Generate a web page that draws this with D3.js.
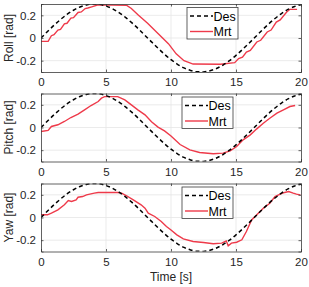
<!DOCTYPE html>
<html>
<head>
<meta charset="utf-8">
<script src="https://cdn.jsdelivr.net/npm/d3@7"></script>
<style>
  body { margin: 0; background: #fff; }
  svg { display: block; font-family: "Liberation Sans", Arial, sans-serif; }
</style>
</head>
<body>
<svg></svg>
<script>
//Data
const desT = [0,0.5,1,1.5,2,2.5,3,3.5,4,4.5,5,5.5,6,6.5,7,7.5,8,8.5,9,9.5,10,10.5,11,11.5,12,12.5,13,13.5,14,14.5,15,15.5,16,16.5,17,17.5,18,18.5,19,19.5,20];
const desV = [0,0.057,0.112,0.163,0.208,0.245,0.274,0.292,0.300,0.297,0.282,0.258,0.224,0.182,0.133,0.080,0.023,-0.034,-0.090,-0.143,-0.191,-0.232,-0.264,-0.286,-0.298,-0.299,-0.289,-0.269,-0.239,-0.200,-0.153,-0.101,-0.046,0.011,0.068,0.123,0.172,0.216,0.252,0.278,0.294];

const rollT = [0,0.55,0.8,1.0,1.3,1.5,1.8,2.0,2.3,2.5,2.85,3.1,3.4,3.6,3.9,4.4,6.6,6.95,7.5,8.2,9.0,9.8,10.4,11.0,11.7,13.8,14.9,15.2,15.5,15.8,16.1,16.6,16.9,17.4,17.7,18.1,18.4,18.9,19.15,19.7];
const rollV = [-0.03,-0.03,0.02,0.03,0.07,0.075,0.125,0.13,0.175,0.18,0.225,0.23,0.26,0.265,0.275,0.293,0.288,0.26,0.2,0.13,0.04,-0.05,-0.14,-0.2,-0.23,-0.232,-0.218,-0.182,-0.17,-0.124,-0.11,-0.035,-0.02,0.053,0.07,0.14,0.16,0.229,0.253,0.253];

const pitchT = [0,0.55,0.8,1.3,1.8,2.3,2.85,3.35,3.85,4.4,4.65,4.9,5.9,6.45,6.95,7.45,8.0,8.5,9.0,9.5,10.0,10.7,11.45,12.2,13.25,14.0,14.55,15.05,15.55,16.1,16.6,17.1,17.6,18.15,18.65,19.15,19.55];
const pitchV = [-0.035,-0.026,0.009,0.024,0.053,0.088,0.118,0.156,0.194,0.229,0.259,0.272,0.272,0.244,0.2,0.156,0.112,0.05,0.003,-0.03,-0.075,-0.15,-0.197,-0.221,-0.232,-0.226,-0.206,-0.168,-0.109,-0.065,-0.012,0.038,0.082,0.126,0.156,0.185,0.194];

const yawT = [0,0.5,0.8,1.3,1.8,2.1,2.35,2.7,2.85,3.2,3.5,4.1,4.4,5.9,6.2,6.55,7.1,7.7,8.0,8.25,8.75,9.25,9.65,10.0,10.45,10.95,11.7,12.5,13.25,13.9,14.25,14.4,14.65,15.05,15.45,15.8,16.2,16.6,17.1,17.6,18.0,18.4,18.75,19.05,19.4,19.65,19.95];
const yawV = [0.024,0.024,0.038,0.068,0.112,0.15,0.141,0.156,0.179,0.185,0.2,0.215,0.221,0.221,0.215,0.194,0.156,0.112,0.082,0.038,0.009,-0.035,-0.079,-0.11,-0.153,-0.188,-0.212,-0.221,-0.232,-0.226,-0.206,-0.25,-0.226,-0.218,-0.197,-0.124,-0.021,0.024,0.082,0.126,0.185,0.206,0.221,0.229,0.215,0.206,0.2];

const xTicks = [0,5,10,15,20];
const yTicks = [-0.2,0,0.2];
const panels = [
  {label: "Roll [rad]", t: rollT, v: rollV, top: 4, legX: 187},
  {label: "Pitch [rad]", t: pitchT, v: pitchV, top: 93.5, legX: 182},
  {label: "Yaw [rad]", t: yawT, v: yawV, top: 183.5, legX: 182}
];

const w = 309, h = 287;
const left = 41, right = 301, ph = 68;
const red = "#ee3a4a";

const svg = d3.select("svg").attr("width", w).attr("height", h);

const x = d3.scaleLinear().domain([0, 20]).range([left, right]);

panels.forEach((p, i) => {
  const y = d3.scaleLinear().domain([-0.3, 0.3]).range([p.top + ph, p.top]);
  const g = svg.append("g");

  //grid
  g.selectAll(".gx").data([5,10,15]).enter().append("line")
    .attr("x1", d => x(d)).attr("x2", d => x(d))
    .attr("y1", p.top).attr("y2", p.top + ph)
    .attr("stroke", "#e6e6e6").attr("stroke-width", 0.8);
  g.selectAll(".gy").data(yTicks).enter().append("line")
    .attr("x1", left).attr("x2", right)
    .attr("y1", d => y(d)).attr("y2", d => y(d))
    .attr("stroke", "#e6e6e6").attr("stroke-width", 0.8);

  //clip
  svg.append("clipPath").attr("id", "clip" + i).append("rect")
    .attr("x", left).attr("y", p.top).attr("width", right - left).attr("height", ph);

  const desData = desT.map((t, k) => [t, desV[k]]);
  const mrtData = p.t.map((t, k) => [t, p.v[k]]);
  const line = d3.line().x(d => x(d[0])).y(d => y(d[1]));

  g.append("path").datum(mrtData)
    .attr("d", line).attr("fill", "none")
    .attr("stroke", red).attr("stroke-width", 1.4)
    .attr("clip-path", `url(#clip${i})`);
  g.append("path").datum(desData)
    .attr("d", d3.line().curve(d3.curveMonotoneX).x(d => x(d[0])).y(d => y(d[1])))
    .attr("fill", "none")
    .attr("stroke", "#000").attr("stroke-width", 1.5)
    .attr("stroke-dasharray", "4,3")
    .attr("clip-path", `url(#clip${i})`);

  //axes
  const xAxis = d3.axisBottom(x).tickValues(xTicks).tickSize(-2.5).tickPadding(6);
  g.append("g").attr("transform", `translate(0,${p.top + ph})`).call(xAxis);
  const xTop = d3.axisTop(x).tickValues(xTicks).tickSize(-2.5).tickFormat("");
  g.append("g").attr("transform", `translate(0,${p.top})`).call(xTop);
  const yAxis = d3.axisLeft(y).tickValues(yTicks).tickSize(-2.5).tickPadding(5)
    .tickFormat(d => d === 0 ? "0" : d3.format(".1f")(d).replace("−", "-"));
  g.append("g").attr("transform", `translate(${left},0)`).call(yAxis);
  const yRight = d3.axisRight(y).tickValues(yTicks).tickSize(-2.5).tickFormat("");
  g.append("g").attr("transform", `translate(${right},0)`).call(yRight);

  g.selectAll(".domain").attr("stroke", "#3a3a3a").attr("stroke-width", 0.8);
  g.selectAll(".tick line").attr("stroke", "#3a3a3a").attr("stroke-width", 0.8);
  g.selectAll(".tick text").attr("font-size", 11.5).attr("fill", "#262626")
    .attr("font-family", "'Liberation Sans', Arial, sans-serif");

  //y label
  svg.append("text")
    .attr("transform", `translate(13,${p.top + ph / 2}) rotate(-90)`)
    .attr("text-anchor", "middle")
    .attr("font-size", 12).attr("fill", "#262626")
    .text(p.label);

  //legend
  const lg = svg.append("g").attr("transform", `translate(${p.legX},${p.top + 3.5})`);
  lg.append("rect").attr("width", 51).attr("height", 31.5)
    .attr("fill", "#fff").attr("stroke", "#3a3a3a").attr("stroke-width", 0.8);
  lg.append("line").attr("x1", 3).attr("x2", 26).attr("y1", 8.5).attr("y2", 8.5)
    .attr("stroke", "#000").attr("stroke-width", 1.5).attr("stroke-dasharray", "4,3");
  lg.append("line").attr("x1", 3).attr("x2", 26).attr("y1", 24).attr("y2", 24)
    .attr("stroke", red).attr("stroke-width", 1.4);
  lg.append("text").attr("x", 26.5).attr("y", 13).attr("font-size", 12.5).attr("fill", "#000").text("Des");
  lg.append("text").attr("x", 26.5).attr("y", 28.5).attr("font-size", 12.5).attr("fill", "#000").text("Mrt");
});

svg.append("text")
  .attr("x", (left + right) / 2).attr("y", 281)
  .attr("text-anchor", "middle")
  .attr("font-size", 12).attr("fill", "#262626")
  .text("Time [s]");
</script>
</body>
</html>
